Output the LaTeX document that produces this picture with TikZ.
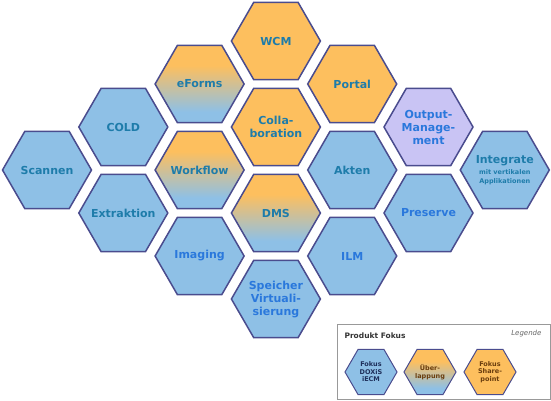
\documentclass[tikz,border=0pt]{standalone}
\usepackage{fontspec}
\setmainfont{DejaVu Sans}
\usetikzlibrary{shapes.geometric}
\definecolor{hblue}{HTML}{8EC0E6}
\definecolor{horange}{HTML}{FDBF5E}
\definecolor{hlila}{HTML}{C9C4F4}
\definecolor{hline}{HTML}{4A4C8E}
\definecolor{tteal}{HTML}{1E7CAA}
\definecolor{tblue}{HTML}{2A78DC}
\definecolor{tnavy}{HTML}{1E2F5A}
\definecolor{tbrown}{HTML}{6B3E0E}
\pgfdeclareverticalshading{overlap}{100bp}{color(0bp)=(hblue); color(25bp)=(hblue); color(32bp)=(hblue); color(62bp)=(horange); color(100bp)=(horange)}
\newcommand\smalltxt{\fontsize{6.5}{7.5}\selectfont}
\tikzset{
    hexa/.style={draw=hline,line width=1.5pt,regular polygon,regular polygon sides=6,
        minimum size=89pt,inner sep=-10pt,align=center,font=\bfseries\fontsize{11}{13}\selectfont},
    ecm/.style={hexa,fill=hblue},
    shp/.style={hexa,fill=horange},
    both/.style={hexa,shading=overlap},
    outm/.style={hexa,fill=hlila},
    minihexa/.style={draw=hline,line width=1pt,regular polygon,regular polygon sides=6,
        minimum size=52pt,inner sep=-6pt,align=center,font=\bfseries\fontsize{6.5}{7.5}\selectfont},
    legbox/.style={draw=black!40,line width=1pt,minimum width=213pt,minimum height=75pt,inner sep=0pt}
}

\begin{document}
\begin{tikzpicture}[x=1pt,y=-1pt]
        \def\dx{76.3}
        \def\dy{43}
        \useasboundingbox (0,0) rectangle (551,400);
        % honeycomb: column/row/name/style/text colour/text
        \foreach \col/\row/\nm/\sty/\tc/\txt in {
            0/3/scannen/ecm/tteal/Scannen,
            1/2/cold/ecm/tteal/COLD,
            1/4/extraktion/ecm/tteal/Extraktion,
            2/1/eforms/both/tteal/eForms,
            2/3/workflow/both/tteal/Workflow,
            2/5/imaging/ecm/tblue/Imaging,
            3/0/wcm/shp/tteal/WCM,
            3/2/collab/shp/tteal/{Colla-\\boration},
            3/4/dms/both/tteal/DMS,
            3/6/speicher/ecm/tblue/{Speicher\\Virtuali-\\sierung},
            4/1/portal/shp/tteal/Portal,
            4/3/akten/ecm/tteal/Akten,
            4/5/ilm/ecm/tblue/ILM,
            5/2/output/outm/tblue/{Output-\\Manage-\\ment},
            5/4/preserve/ecm/tblue/Preserve%
        } {
            \node [\sty,text=\tc] (\nm) at ({47+\col*\dx},{41+\row*\dy}) {\txt};
        }
        \node [ecm,text=tteal] (integrate) at ({47+6*\dx},{41+3*\dy})
            {Integrate\\[-2pt]\smalltxt mit vertikalen\\[-4.5pt]\smalltxt Applikationen};
        % legend
        \node [legbox] (legend) at (443.5,361.5) {};
        \node [anchor=west,font=\bfseries\fontsize{7.5}{9}\selectfont,text=black!80] (fokus) at (341,336) {Produkt Fokus};
        \node [anchor=east,font=\itshape\fontsize{7}{8}\selectfont,text=black!60] (legende) at (545,334) {Legende};
        \node [minihexa,fill=hblue,text=tnavy] (lecm) at (371,372) {Fokus\\DOXiS\\iECM};
        \node [minihexa,shading=overlap,text=tbrown] (lboth) at (430,372) {Über-\\lappung};
        \node [minihexa,fill=horange,text=tbrown] (lshp) at (490,372) {Fokus\\Share-\\point};
    \end{tikzpicture}
\end{document}
